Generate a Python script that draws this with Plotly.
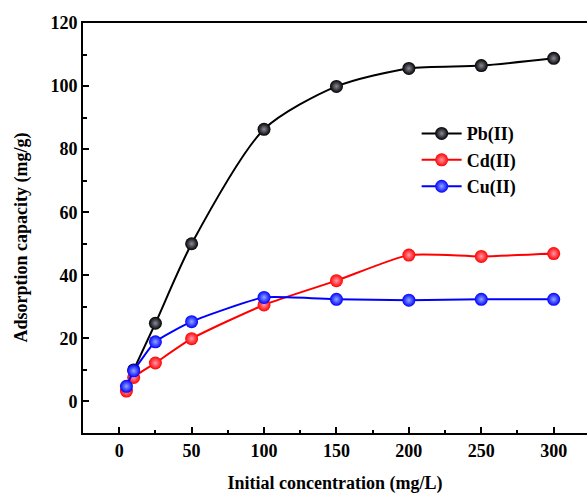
import plotly.graph_objects as go

# Initial concentration (mg/L)
conc = [5, 10, 25, 50, 100, 150, 200, 250, 300]
conc_pb = [10, 25, 50, 100, 150, 200, 250, 300]

# Adsorption capacity (mg/g)
pb = [10.0, 24.8, 50.0, 86.3, 99.9, 105.6, 106.5, 108.8]
cd = [3.3, 7.6, 12.2, 19.9, 30.6, 38.3, 46.4, 46.0, 46.9]
cu = [4.8, 9.7, 18.9, 25.3, 33.0, 32.4, 32.1, 32.4, 32.4]

x_ticks = [0, 50, 100, 150, 200, 250, 300]
y_ticks = [0, 20, 40, 60, 80, 100, 120]

series = [
    ("Pb(II)", conc_pb, pb, "#000000", "#8a8a98", 0.75),
    ("Cd(II)", conc, cd, "#ff0000", "#ff9aa8", 0.6),
    ("Cu(II)", conc, cu, "#0000ff", "#8fa8ff", 0.5),
]

fig = go.Figure()
for name, xs, ys, col, hi, smooth in series:
    fig.add_trace(go.Scatter(
        x=xs, y=ys, name=name, mode="lines+markers",
        line=dict(color=col, width=2, shape="spline", smoothing=smooth),
        marker=dict(size=13, color=col, line=dict(width=0),
                    gradient=dict(type="radial", color=hi)),
    ))

font_family = "Liberation Serif, Times New Roman, serif"

fig.update_layout(
    width=587, height=494,
    margin=dict(l=83, r=0, t=23, b=61),
    paper_bgcolor="white", plot_bgcolor="white",
    font=dict(family=font_family, color="black"),
    showlegend=True,
    legend=dict(
        x=0.662, y=0.775, xanchor="left", yanchor="top",
        bgcolor="rgba(0,0,0,0)", borderwidth=0,
        font=dict(size=18, family=font_family, weight="bold"),
        itemwidth=40, tracegroupgap=0,
    ),
    annotations=[dict(
        text="Adsorption capacity (mg/g)", textangle=-90,
        xref="paper", yref="paper", x=-0.123, y=0.477,
        xanchor="center", yanchor="middle", showarrow=False,
        font=dict(size=18, family=font_family, weight="bold"),
    )],
)

fig.update_xaxes(
    range=[-25, 323], tickvals=x_ticks,
    ticks="inside", ticklen=6, tickwidth=1.5, tickcolor="black",
    minor=dict(ticks="inside", ticklen=3.5, tickwidth=1.5, tickcolor="black", dtick=25, tick0=0),
    showline=True, linewidth=2, linecolor="black", mirror=True,
    showgrid=False, zeroline=False,
    tickfont=dict(size=18, family=font_family, weight="bold"),
    title=dict(text="Initial concentration (mg/L)", standoff=21,
               font=dict(size=18, family=font_family, weight="bold")),
)
fig.update_yaxes(
    range=[-10, 120], tickvals=y_ticks,
    ticks="inside", ticklen=6, tickwidth=1.5, tickcolor="black",
    minor=dict(ticks="inside", ticklen=3.5, tickwidth=1.5, tickcolor="black", dtick=10, tick0=0),
    showline=True, linewidth=2, linecolor="black", mirror=False,
    showgrid=False, zeroline=False,
    tickfont=dict(size=18, family=font_family, weight="bold"),
)

fig.write_html("out.html")
